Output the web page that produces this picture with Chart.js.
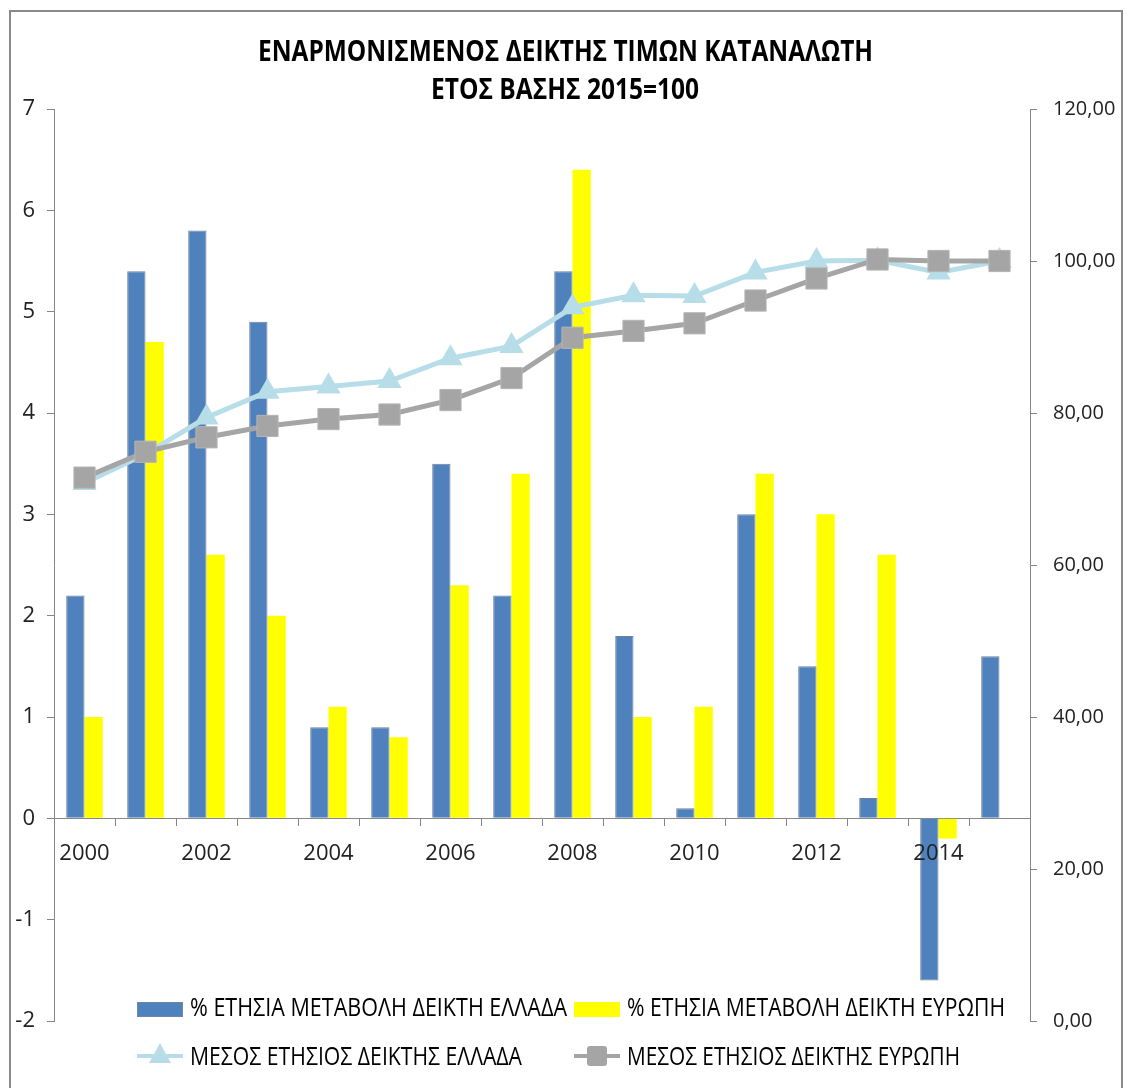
<!DOCTYPE html>
<html>
<head>
<meta charset="utf-8">
<script src="https://cdn.jsdelivr.net/npm/chart.js@4.4.1/dist/chart.umd.min.js"></script>
<style>
  html, body { margin: 0; padding: 0; background: #fff; }
  #wrap { position: relative; width: 1128px; height: 1088px; overflow: hidden; font-family: "Open Sans", sans-serif; }
  #frame { position: absolute; left: 9px; top: 10px; width: 1114px; height: 1100px; border: 2px solid #8a8a8a; box-sizing: border-box; pointer-events: none; }
  canvas { position: absolute; left: 0; top: 0; }
  .t { position: absolute; white-space: nowrap; color: #000; transform-origin: 0 0; }
  .title { font-weight: bold; font-size: 28px; line-height: 1; }
  .leg { font-size: 26px; line-height: 1; }
  .sw { position: absolute; }
</style>
</head>
<body>
<div id="wrap">
  <canvas id="c" width="1128" height="1088"></canvas>
  <div id="frame"></div>
  <div class="t title" id="t1" data-x="258" data-y="36" data-w="615">ΕΝΑΡΜΟΝΙΣΜΕΝΟΣ ΔΕΙΚΤΗΣ ΤΙΜΩΝ ΚΑΤΑΝΑΛΩΤΗ</div>
  <div class="t title" id="t2" data-x="431" data-y="74" data-w="268">ΕΤΟΣ ΒΑΣΗΣ 2015=100</div>

  <div class="sw" style="left:137px;top:1002px;width:46px;height:15px;background:#4F81BD;box-shadow:inset 0 0 0 1px #6d87a8;"></div>
  <div class="t leg" data-x="190" data-y="993" data-w="377">% ΕΤΗΣΙΑ ΜΕΤΑΒΟΛΗ ΔΕΙΚΤΗ ΕΛΛΑΔΑ</div>
  <div class="sw" style="left:574px;top:1002px;width:46px;height:15px;background:#FFFF00;"></div>
  <div class="t leg" data-x="627" data-y="993" data-w="378">% ΕΤΗΣΙΑ ΜΕΤΑΒΟΛΗ ΔΕΙΚΤΗ ΕΥΡΩΠΗ</div>

  <div class="sw" style="left:137px;top:1054px;width:46px;height:4px;background:#B7DEE8;"></div>
  <div class="sw" style="left:149px;top:1043px;width:0;height:0;border-left:11px solid transparent;border-right:11px solid transparent;border-bottom:20px solid #B7DEE8;"></div>
  <div class="t leg" data-x="190" data-y="1042" data-w="332">ΜΕΣΟΣ ΕΤΗΣΙΟΣ ΔΕΙΚΤΗΣ ΕΛΛΑΔΑ</div>
  <div class="sw" style="left:574px;top:1054px;width:46px;height:4px;background:#A5A5A5;"></div>
  <div class="sw" style="left:587px;top:1046px;width:20px;height:20px;background:#A5A5A5;border-radius:3px;"></div>
  <div class="t leg" data-x="627" data-y="1042" data-w="333">ΜΕΣΟΣ ΕΤΗΣΙΟΣ ΔΕΙΚΤΗΣ ΕΥΡΩΠΗ</div>
</div>
<script>
// ---- data ----
const years = ['2000','2001','2002','2003','2004','2005','2006','2007','2008','2009','2010','2011','2012','2013','2014','2015'];
const greeceChange = [2.2, 5.4, 5.8, 4.9, 0.9, 0.9, 3.5, 2.2, 5.4, 1.8, 0.1, 3.0, 1.5, 0.2, -1.6, 1.6];
const europeChange = [1.0, 4.7, 2.6, 2.0, 1.1, 0.8, 2.3, 3.4, 6.4, 1.0, 1.1, 3.4, 3.0, 2.6, -0.2, null];
const greeceIndex = [70.8, 74.6, 79.4, 82.8, 83.5, 84.2, 87.2, 88.8, 93.9, 95.5, 95.4, 98.5, 100.0, 100.1, 98.5, 100.0];
const europeIndex = [71.5, 74.9, 76.8, 78.3, 79.2, 79.8, 81.7, 84.6, 89.9, 90.8, 91.8, 94.8, 97.7, 100.2, 100.0, 100.0];
const seriesNames = [
  '% ΕΤΗΣΙΑ ΜΕΤΑΒΟΛΗ ΔΕΙΚΤΗ ΕΛΛΑΔΑ',
  '% ΕΤΗΣΙΑ ΜΕΤΑΒΟΛΗ ΔΕΙΚΤΗ ΕΥΡΩΠΗ',
  'ΜΕΣΟΣ ΕΤΗΣΙΟΣ ΔΕΙΚΤΗΣ ΕΛΛΑΔΑ',
  'ΜΕΣΟΣ ΕΤΗΣΙΟΣ ΔΕΙΚΤΗΣ ΕΥΡΩΠΗ'
];

// fit the overlay texts to their measured widths
document.querySelectorAll('.t').forEach(el => {
  el.style.left = el.dataset.x + 'px';
  el.style.top = el.dataset.y + 'px';
  const w = el.getBoundingClientRect().width;
  const target = parseFloat(el.dataset.w);
  el.style.transform = 'scaleX(' + (target / w) + ')';
});

const axisColor = '#868686';
const font = { family: '"Open Sans", sans-serif', size: 22 };
const fontRight = { family: '"Open Sans", sans-serif', size: 20 };

new Chart(document.getElementById('c'), {
  type: 'bar',
  data: {
    labels: years,
    datasets: [
      { type: 'line', label: seriesNames[2], data: greeceIndex, yAxisID: 'y1', order: 1,
        borderColor: '#B7DEE8', backgroundColor: '#B7DEE8', borderWidth: 5,
        pointStyle: 'triangle', pointRadius: 14, pointBorderWidth: 0, pointBackgroundColor: '#B7DEE8', tension: 0 },
      { type: 'line', label: seriesNames[3], data: europeIndex, yAxisID: 'y1', order: 0,
        borderColor: '#A5A5A5', backgroundColor: '#A5A5A5', borderWidth: 5,
        pointStyle: 'rect', pointRadius: 15, pointBorderWidth: 1, pointBorderColor: '#b5b5b5', pointBackgroundColor: '#A5A5A5', tension: 0 },
      { label: seriesNames[0], data: greeceChange, yAxisID: 'y', order: 2,
        backgroundColor: '#4F81BD', borderColor: '#70809a', borderWidth: 1,
        categoryPercentage: 0.6, barPercentage: 1.0 },
      { label: seriesNames[1], data: europeChange, yAxisID: 'y', order: 3,
        backgroundColor: '#FFFF00', borderWidth: 0,
        categoryPercentage: 0.6, barPercentage: 1.0 }
    ]
  },
  options: {
    responsive: false,
    animation: false,
    layout: { padding: { top: 109, bottom: 67, left: 0, right: 0 } },
    plugins: { legend: { display: false }, title: { display: false }, tooltip: { enabled: false } },
    scales: {
      x: {
        position: { y: 0 },
        offset: true,
        grid: { display: true, drawOnChartArea: false, drawTicks: true, tickLength: 7, color: axisColor, offset: true },
        border: { display: true, color: axisColor, width: 1 },
        ticks: { z: 1, autoSkip: false, maxRotation: 0, minRotation: 0, padding: 15, color: '#222', font: font,
          callback: (v, i) => (i % 2 === 0 ? years[i] : '') }
      },
      y: {
        position: 'left', min: -2, max: 7,
        afterFit: s => { s.width = 54; },
        grid: { drawOnChartArea: false, tickLength: 7, color: axisColor },
        border: { display: true, color: axisColor, width: 1 },
        ticks: { stepSize: 1, padding: 12, color: '#222', font: font }
      },
      y1: {
        position: 'right', min: 0, max: 120,
        afterFit: s => { s.width = 98; },
        grid: { drawOnChartArea: false, tickLength: 7, color: axisColor },
        border: { display: true, color: axisColor, width: 1 },
        ticks: { stepSize: 20, padding: 16, color: '#222', font: fontRight,
          callback: v => v.toFixed(2).replace('.', ',') }
      }
    }
  }
});
</script>
</body>
</html>
